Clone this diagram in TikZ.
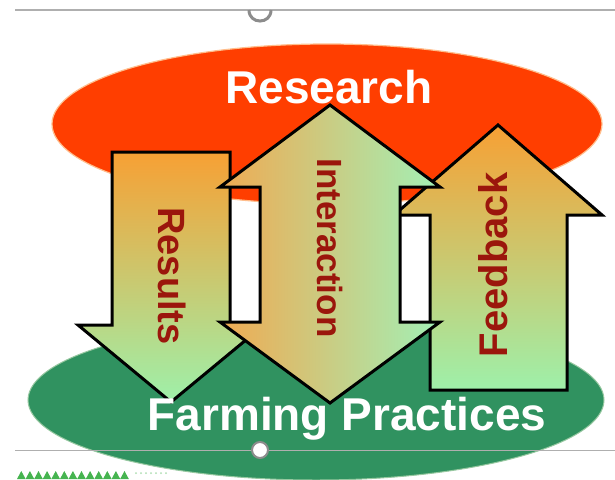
\documentclass[tikz,border=0pt]{standalone}
\usepackage{fontspec}
\setmainfont{Liberation Sans}
\definecolor{resred}{RGB}{255,62,0}
\definecolor{resedge}{RGB}{255,190,140}
\definecolor{farmgreen}{RGB}{48,146,96}
\definecolor{farmedge}{RGB}{150,200,160}
\definecolor{arrorange}{RGB}{247,160,52}
\definecolor{arrmid}{RGB}{236,206,132}
\definecolor{arrgreen}{RGB}{158,240,170}
\definecolor{intleft}{RGB}{240,170,82}
\definecolor{intmid}{RGB}{214,214,142}
\definecolor{intright}{RGB}{162,240,182}
\definecolor{txtred}{RGB}{155,22,12}
\definecolor{uigrey}{RGB}{175,175,175}
\definecolor{handlegrey}{RGB}{140,140,140}
\definecolor{sawgreen}{RGB}{70,180,80}
\begin{document}
\begin{tikzpicture}[x=1pt,y=-1pt,
  arrowshape/.style={draw=black, line width=3pt, line join=miter, miter limit=10},
  vshade/.style={top color=arrorange, middle color=arrmid, bottom color=arrgreen},
  hshade/.style={left color=intleft, middle color=intmid, right color=intright},
  arrlabel/.style={font=\bfseries\fontsize{#1}{#1}\selectfont, text=txtred, inner sep=0pt},
  titlelabel/.style={font=\bfseries\fontsize{46}{48}\selectfont, text=white, inner sep=0pt, anchor=base}]
\useasboundingbox (0,0) rectangle (615,479);
\fill[white] (0,0) rectangle (615,479);

% UI guide line and handle at top
\draw[uigrey, line width=1.2pt] (15,10) -- (615,10);
\draw[handlegrey, line width=3pt] (249,10) .. controls (249,24.7) and (271,24.7) .. (271,10);

% ellipses
\filldraw[fill=resred, draw=resedge, line width=1.2pt] (327,124) ellipse [x radius=275pt, y radius=80pt];
\filldraw[fill=farmgreen, draw=farmedge, line width=1pt] (316,400) ellipse [x radius=288pt, y radius=80pt];

% Feedback arrow (up)
\path[arrowshape, vshade] (498,125) -- (602,215) -- (567,215) -- (567,390) -- (430,390) -- (430,215) -- (394,215) -- cycle;
% Results arrow (down)
\path[arrowshape, vshade] (112,152) -- (230,152) -- (230,325) -- (264,325) -- (171,402) -- (78,325) -- (112,325) -- cycle;
% Interaction arrow (up and down)
\path[arrowshape, hshade] (330,105) -- (440,187) -- (400,187) -- (400,322) -- (440,322) -- (330,403) -- (220,322) -- (260,322) -- (260,187) -- (220,187) -- cycle;

% arrow labels
\node[arrlabel=38, rotate=-90] (results) at (172,276) {Results};
\node[arrlabel=35, rotate=-90] (interaction) at (330,248) {Interaction};
\node[arrlabel=40, rotate=90] (feedback) at (493,265) {Feedback};

% titles
\node[titlelabel] (research) at (329,103) {Research};
\node[titlelabel] (farming) at (347,430) {Farming Practices};

% UI guide line and handle at bottom
\draw[uigrey, line width=1pt] (15,450) -- (615,450);
\filldraw[fill=white, draw=handlegrey, line width=2pt] (260,450) circle (8pt);

% decorative sawtooth at bottom left
\foreach \i in {0,...,12} {
  \fill[sawgreen] ({17+\i*8.6},479) -- ({21.3+\i*8.6},471) -- ({25.6+\i*8.6},479) -- cycle;
}
\foreach \i in {0,...,6} {
  \fill[sawgreen!45] ({136+\i*5},473) circle (1pt);
}
\end{tikzpicture}
\end{document}
